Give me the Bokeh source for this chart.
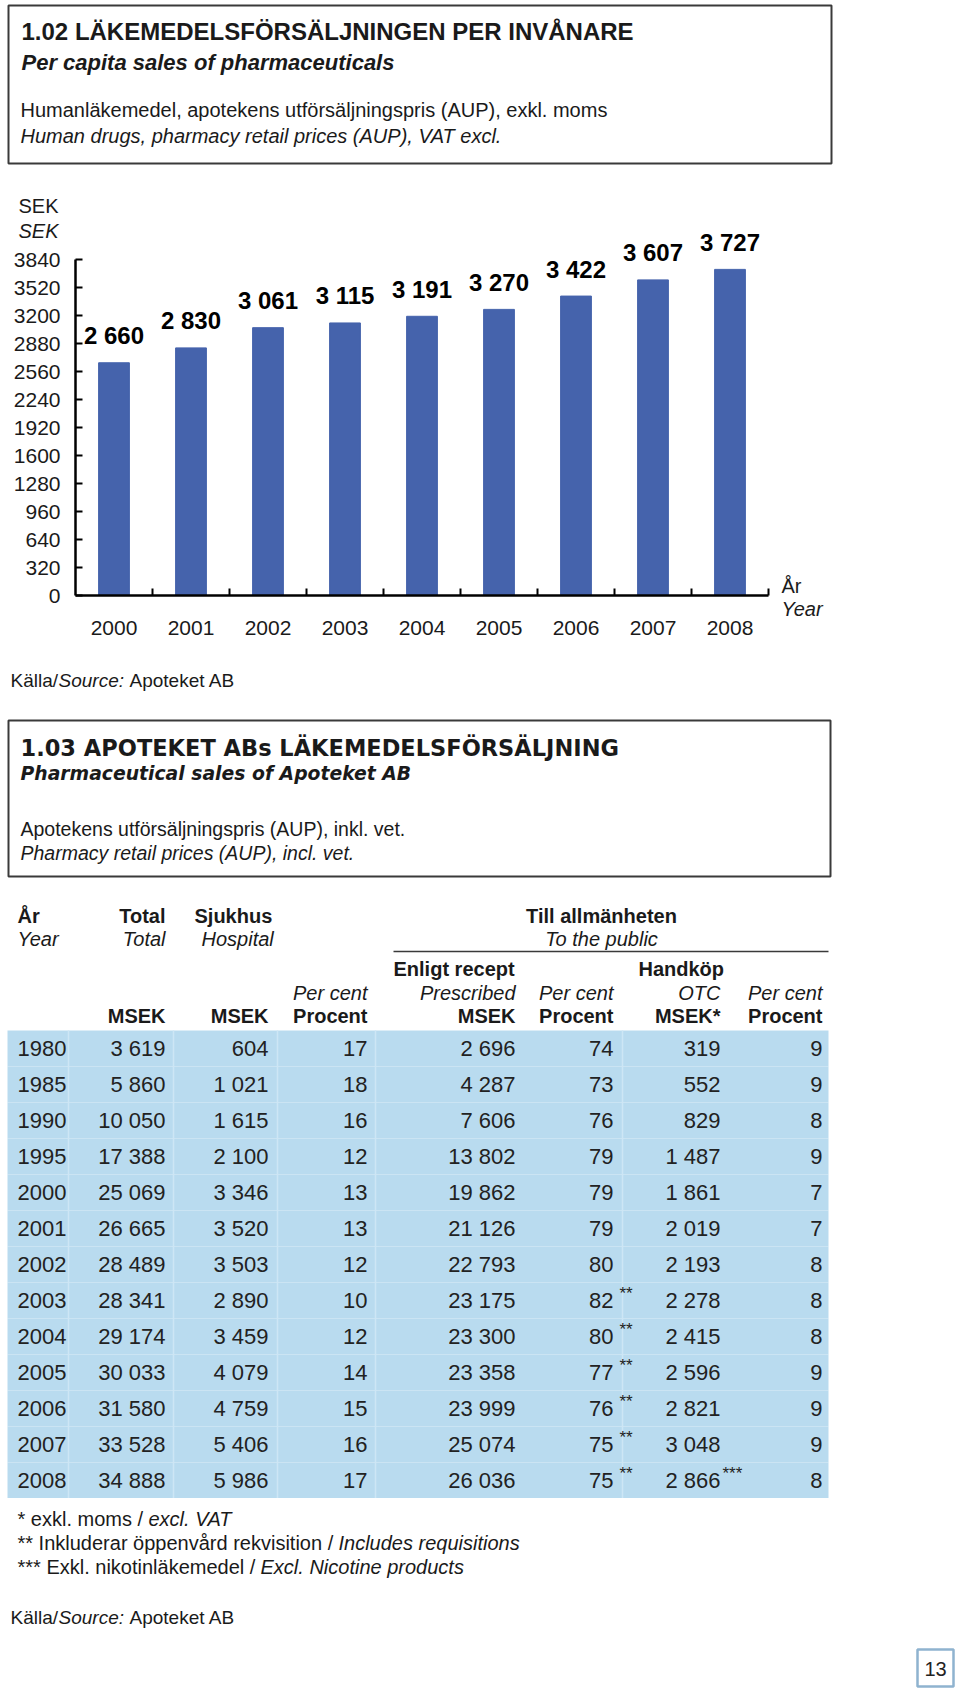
from bokeh.plotting import figure
from bokeh.layouts import column
from bokeh.models import Range1d, FixedTicker, ColumnDataSource
from bokeh.core.properties import value
from bokeh.embed import file_html
from bokeh.resources import INLINE

# ---------------- data ----------------
bar_years = ["2000", "2001", "2002", "2003", "2004", "2005", "2006", "2007", "2008"]
bar_values = [2660, 2830, 3061, 3115, 3191, 3270, 3422, 3607, 3727]
y_ticks = [0, 320, 640, 960, 1280, 1600, 1920, 2240, 2560, 2880, 3200, 3520, 3840]

table_years = ["1980", "1985", "1990", "1995", "2000", "2001", "2002",
               "2003", "2004", "2005", "2006", "2007", "2008"]
total_msek = [3619, 5860, 10050, 17388, 25069, 26665, 28489, 28341, 29174, 30033, 31580, 33528, 34888]
hospital_msek = [604, 1021, 1615, 2100, 3346, 3520, 3503, 2890, 3459, 4079, 4759, 5406, 5986]
hospital_pct = [17, 18, 16, 12, 13, 13, 12, 10, 12, 14, 15, 16, 17]
prescribed_msek = [2696, 4287, 7606, 13802, 19862, 21126, 22793, 23175, 23300, 23358, 23999, 25074, 26036]
prescribed_pct = [74, 73, 76, 79, 79, 79, 80, 82, 80, 77, 76, 75, 75]
prescribed_note = ["", "", "", "", "", "", "", "**", "**", "**", "**", "**", "**"]
otc_msek = [319, 552, 829, 1487, 1861, 2019, 2193, 2278, 2415, 2596, 2821, 3048, 2866]
otc_note = ["", "", "", "", "", "", "", "", "", "", "", "", "***"]
otc_pct = [9, 9, 8, 9, 7, 7, 8, 8, 8, 9, 9, 9, 8]

# ---------------- style ----------------
W = 960
SANS = "Liberation Sans"
WIDE = "DejaVu Sans"
INK = "#1a1a1a"
BAR = "#4563AC"
CELL = "#B9DBEF"
SEP = "#CDE6F5"
BOX = "#3a3a3a"


def fmt(v):
    return f"{v:,}".replace(",", " ")


def text_fig(h, y_range=None):
    p = figure(width=W, height=h, x_range=Range1d(0, W),
               y_range=y_range if y_range is not None else Range1d(h, 0),
               x_axis_location=None, y_axis_location=None, toolbar_location=None,
               output_backend="svg", min_border=0, outline_line_color=None)
    p.grid.visible = False
    return p


def txt(p, x, y, s, size, style="normal", align="left", font=SANS, color=INK):
    p.text(x=[x], y=[y], text=[s], text_font=value(font), text_font_size=f"{size}px",
           text_font_style=style, text_align=align, text_baseline="middle", text_color=color)


# ---------------- header 1 ----------------
h1 = text_fig(188)
h1.quad(left=[8], right=[831], top=[5], bottom=[163], fill_color=None, line_color=BOX, line_width=2)
txt(h1, 21, 31, "1.02 LÄKEMEDELSFÖRSÄLJNINGEN PER INVÅNARE", 24, "bold")
txt(h1, 21, 62, "Per capita sales of pharmaceuticals", 22, "bold italic")
txt(h1, 20, 109, "Humanläkemedel, apotekens utförsäljningspris (AUP), exkl. moms", 20)
txt(h1, 20, 135, "Human drugs, pharmacy retail prices (AUP), VAT excl.", 20, "italic")

# ---------------- bar chart ----------------
CH_TOP, CH_H = 188, 525
AX_X0, CAT_W = 75, 77.0            # pixel position of the y axis, pixels per category
AX_Y0, PX_PER = 595, 336.0 / 3840  # pixel position of the x axis, pixels per SEK
n = len(bar_years)
centers = [i + 0.5 for i in range(n)]
bounds = [i + 1 for i in range(n)]
y_axis_top = y_ticks[-1]


def cx(px):
    return (px - AX_X0) / CAT_W


def cy(py):
    return (AX_Y0 - py) / PX_PER


ch = figure(width=W, height=CH_H,
            x_range=Range1d(cx(0), cx(W)), y_range=Range1d(cy(CH_TOP + CH_H), cy(CH_TOP)),
            toolbar_location=None, output_backend="svg", min_border=0, outline_line_color=None)
ch.grid.visible = False
ch.vbar(x=centers, top=bar_values, width=0.4, color=BAR)
ch.text(x=centers, y=bar_values, text=[fmt(v) for v in bar_values], y_offset=-27,
        text_font=value(SANS), text_font_size="24px", text_font_style="bold",
        text_align="center", text_baseline="middle", text_color="#000000")

xa = ch.xaxis[0]
xa.fixed_location = 0
xa.bounds = (0, n)
xa.ticker = FixedTicker(ticks=centers, minor_ticks=bounds)
xa.major_label_overrides = {c: y for c, y in zip(centers, bar_years)}
xa.major_tick_in = 0
xa.major_tick_out = 0
xa.major_tick_line_color = None
xa.minor_tick_in = 7
xa.minor_tick_out = 0
xa.minor_tick_line_width = 2
xa.minor_tick_line_color = "#000000"
xa.axis_line_width = 2.5
xa.axis_line_color = "#000000"
xa.major_label_standoff = 25
xa.major_label_text_font = SANS
xa.major_label_text_font_size = "21px"
xa.major_label_text_color = INK

ya = ch.yaxis[0]
ya.fixed_location = 0
ya.ticker = FixedTicker(ticks=y_ticks)
ya.bounds = (0, y_axis_top)
ya.major_tick_in = 7
ya.major_tick_out = 0
ya.major_tick_line_width = 2
ya.major_tick_line_color = "#000000"
ya.minor_tick_line_color = None
ya.axis_line_width = 2.5
ya.axis_line_color = "#000000"
ya.major_label_standoff = 15
ya.major_label_text_font = SANS
ya.major_label_text_font_size = "21px"
ya.major_label_text_color = INK


def ctext(px, py, s, style="normal", align="left", size=20):
    txt(ch, cx(px), cy(py), s, size, style, align)


ctext(58, 205, "SEK", align="right")
ctext(58, 230, "SEK", style="italic", align="right")
ctext(781, 585, "År")
ctext(781, 608, "Year", style="italic")
ctext(10, 680, "Källa/", size=19)
ctext(58, 680, "Source:", style="italic", size=19)
ctext(129, 680, "Apoteket AB", size=19)

# ---------------- header 2 ----------------
H2_TOP, H2_H = 713, 180
h2 = text_fig(H2_H)


def ht(x, y, s, size, style="normal", align="left", font=SANS):
    txt(h2, x, y - H2_TOP, s, size, style, align, font)


h2.quad(left=[8], right=[830], top=[720 - H2_TOP], bottom=[876 - H2_TOP],
        fill_color=None, line_color=BOX, line_width=2)
ht(20, 747, "1.03 APOTEKET ABs LÄKEMEDELSFÖRSÄLJNING", 22.5, "bold", font=WIDE)
ht(20, 773, "Pharmaceutical sales of Apoteket AB", 18.8, "bold italic", font=WIDE)
ht(20, 828, "Apotekens utförsäljningspris (AUP), inkl. vet.", 19.5)
ht(20, 852, "Pharmacy retail prices (AUP), incl. vet.", 19.5, "italic")

# ---------------- table (column heads + body) ----------------
TB_TOP, TB_BOTTOM = 893, 1498
BODY_TOP = 1030
n_rows = len(table_years)
ROW_H = (TB_BOTTOM - BODY_TOP) / n_rows


def ry(py):
    return (py - BODY_TOP) / ROW_H - 0.5


rows = list(range(n_rows))
tb = text_fig(TB_BOTTOM - TB_TOP, y_range=Range1d(ry(TB_BOTTOM), ry(TB_TOP)))


def tt(x, py, s, size, style="normal", align="left"):
    txt(tb, x, ry(py), s, size, style, align)


tt(17, 915, "År", 20, "bold")
tt(165, 915, "Total", 20, "bold", "right")
tt(194, 915, "Sjukhus", 20, "bold")
tt(601, 915, "Till allmänheten", 20, "bold", "center")
tt(17, 938, "Year", 20, "italic")
tt(165, 938, "Total", 20, "italic", "right")
tt(201, 938, "Hospital", 20, "italic")
tt(601, 938, "To the public", 20, "italic", "center")
tb.segment(x0=[393], x1=[828], y0=[ry(951)], y1=[ry(951)], line_color=BOX, line_width=1.5)
tt(393, 968, "Enligt recept", 20, "bold")
tt(638, 968, "Handköp", 20, "bold")
for x, s in [(367, "Per cent"), (515, "Prescribed"), (613, "Per cent"), (720, "OTC"), (822, "Per cent")]:
    tt(x, 992, s, 20, "italic", "right")
for x, s in [(165, "MSEK"), (268, "MSEK"), (367, "Procent"), (515, "MSEK"), (613, "Procent"),
             (720, "MSEK*"), (822, "Procent")]:
    tt(x, 1015, s, 20, "bold", "right")

src = ColumnDataSource(dict(
    row=rows,
    year=table_years,
    total=[fmt(v) for v in total_msek],
    hosp=[fmt(v) for v in hospital_msek],
    hpct=[str(v) for v in hospital_pct],
    presc=[fmt(v) for v in prescribed_msek],
    ppct=[str(v) for v in prescribed_pct],
    pnote=prescribed_note,
    otc=[fmt(v) for v in otc_msek],
    onote=otc_note,
    opct=[str(v) for v in otc_pct],
))
tb.hbar(y="row", left=7, right=828, height=1.0, source=src, fill_color=CELL, line_color=None)
sep_x = [68, 173, 277, 375, 622]
tb.segment(x0=sep_x, x1=sep_x, y0=[rows[0] - 0.5] * len(sep_x), y1=[rows[-1] + 0.5] * len(sep_x),
           line_color=SEP, line_width=1.5)

cell_style = dict(text_font=value(SANS), text_font_size="22px", text_baseline="middle",
                  text_color="#222222", source=src)
tb.text(x=17, y="row", text="year", text_align="left", **cell_style)
for x, col in [(165, "total"), (268, "hosp"), (367, "hpct"), (515, "presc"),
               (613, "ppct"), (720, "otc"), (822, "opct")]:
    tb.text(x=x, y="row", text=col, text_align="right", **cell_style)
note_style = dict(text_font=value(SANS), text_font_size="17px", text_baseline="middle",
                  text_color="#222222", text_align="left", y_offset=-7, source=src)
tb.text(x=619, y="row", text="pnote", **note_style)
tb.text(x=722, y="row", text="onote", **note_style)

# ---------------- footer ----------------
FT_TOP, FT_H = 1498, 198
ft = text_fig(FT_H)


def fx(x, y, s, size, style="normal", align="left", color=INK):
    txt(ft, x, y - FT_TOP, s, size, style, align, color=color)


fx(17, 1518, "* exkl. moms / ", 20)
fx(148, 1518, "excl. VAT", 20, "italic")
fx(17, 1542, "** Inkluderar öppenvård rekvisition / ", 20)
fx(338, 1542, "Includes requisitions", 20, "italic")
fx(17, 1566, "*** Exkl. nikotinläkemedel / ", 20)
fx(260, 1566, "Excl. Nicotine products", 20, "italic")
fx(10, 1617, "Källa/", 19)
fx(58, 1617, "Source:", 19, "italic")
fx(129, 1617, "Apoteket AB", 19)
ft.quad(left=[917], right=[953], top=[1649 - FT_TOP], bottom=[1686 - FT_TOP], fill_color=None,
        line_color="#8FB3CF", line_width=2.5)
fx(935, 1668, "13", 20, align="center", color="#222222")

page = column(h1, ch, h2, tb, ft, spacing=0)
open("out.html", "w").write(file_html(page, INLINE))
